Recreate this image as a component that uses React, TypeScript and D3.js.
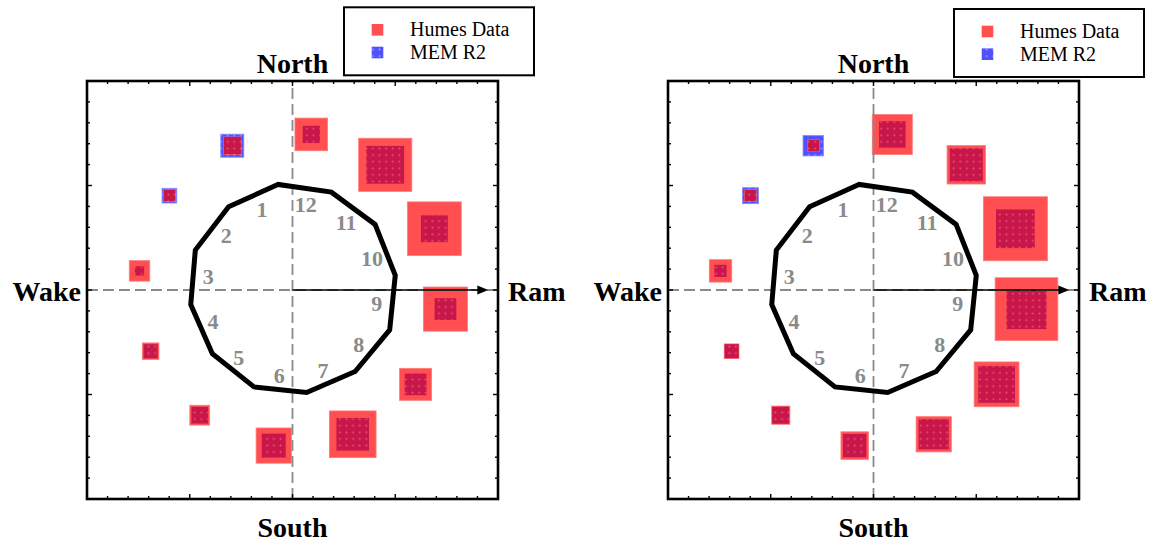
import React from 'react';
import * as d3 from 'd3';

// Months 1..12 placed like a clock, counter-clockwise (degrees from +x axis)
const months = [1, 2, 3, 4, 5, 6, 7, 8, 9, 10, 11, 12];
const monthAngles = [113, 143, 173, 203, 233, 263, 293, 323, 353, 23, 53, 83];

// Polygon radius at the vertex preceding each month (vertex angle = month angle - 15)
const polygonRadius = [1.02, 1.01, 1.02, 1.0, 0.99, 1.0, 0.99, 0.99, 1.02, 1.01, 1.02, 1.01];

// Square sizes (relative units), left panel
const humesLeft = [2.7, 1.8, 3.2, 2.6, 3.1, 5.5, 7.3, 5.0, 6.9, 8.4, 8.3, 5.1];
const memLeft = [3.6, 2.3, 1.45, 2.2, 2.6, 3.75, 5.1, 3.4, 3.4, 4.2, 5.9, 2.7];

// Square sizes (relative units), right panel
const humesRight = [1.8, 1.8, 3.5, 2.3, 2.85, 4.3, 5.5, 7.0, 9.8, 10.0, 6.0, 6.25];
const memRight = [3.2, 2.5, 1.9, 2.2, 2.65, 3.65, 4.7, 5.75, 6.25, 6.05, 5.15, 4.15];

const seriesNames = ['Humes Data', 'MEM R2'];
const directionLabels = { top: 'North', bottom: 'South', left: 'Wake', right: 'Ram' };

const RED = '#ff4f50';
const CRIMSON = '#c8164b';
const BLUE = '#5050ff';
const GRAY = '#8a8a8a';
const SERIF = '"Liberation Serif", "Times New Roman", serif';

type PanelProps = {
  x0: number;
  x1: number;
  humes: number[];
  mem: number[];
  legendX: number;
  legendY: number;
};

const toRad = (d: number) => (d * Math.PI) / 180;

function Panel({ x0, x1, humes, mem, legendX, legendY }: PanelProps) {
  const x = d3.scaleLinear().domain([-2, 2]).range([x0, x1]);
  const y = d3.scaleLinear().domain([-2, 2]).range([499, 81]);
  const s = d3.scaleLinear().domain([0, 10]).range([0, 64]);

  const ticks = d3.range(-1.8, 1.8001, 0.2).map((t) => Math.round(t * 10) / 10);
  const isMajor = (t: number) => Math.abs(t - Math.round(t)) < 1e-6;

  const polyPts: [number, number][] = months.map((_, i) => {
    const a = toRad(monthAngles[i] - 15);
    return [x(polygonRadius[i] * Math.cos(a)), y(polygonRadius[i] * Math.sin(a))];
  });
  const polyPath = d3.line().curve(d3.curveLinearClosed)(polyPts) || '';

  const squareR = 1.5;
  const labelR = 0.83;

  const rect = (cx: number, cy: number, side: number, fill: string, key: string, stroke?: string) => (
    <rect
      key={key}
      x={cx - side / 2}
      y={cy - side / 2}
      width={side}
      height={side}
      fill={fill}
      stroke={stroke || 'none'}
      strokeWidth={stroke ? 0.8 : 0}
    />
  );

  const tipX = x(1.906);
  const cy0 = y(0);

  return (
    <g>
      {/* squares */}
      {months.map((m, i) => {
        const a = toRad(monthAngles[i]);
        const cx = x(squareR * Math.cos(a));
        const cy = y(squareR * Math.sin(a));
        const h = s(humes[i]);
        const mm = s(mem[i]);
        const inner = Math.min(h, mm);
        return (
          <g key={'sq' + m}>
            {mm > h && rect(cx, cy, mm, 'url(#dotsBlue)', 'b', '#8a8aff')}
            {rect(cx, cy, h, RED, 'r', '#ff7a7a')}
            {rect(cx, cy, inner, 'url(#dotsCrimson)', 'c')}
          </g>
        );
      })}

      {/* dashed cross */}
      <line x1={x(-2)} x2={x(2)} y1={cy0} y2={cy0} stroke={GRAY} strokeWidth={1.8} strokeDasharray="11 5" />
      <line x1={x(0)} x2={x(0)} y1={y(-2)} y2={y(2)} stroke={GRAY} strokeWidth={1.8} strokeDasharray="11 5" />

      {/* polygon */}
      <path d={polyPath} fill="none" stroke="#000" strokeWidth={5} strokeLinejoin="miter" />

      {/* Ram arrow */}
      <line x1={x(0)} x2={tipX - 8} y1={cy0} y2={cy0} stroke="#000" strokeWidth={1.6} />
      <path d={`M${tipX},${cy0} L${tipX - 11},${cy0 - 4.5} L${tipX - 11},${cy0 + 4.5} Z`} fill="#000" />

      {/* clock labels */}
      {months.map((m, i) => {
        const a = toRad(monthAngles[i] - 2);
        return (
          <text
            key={'lab' + m}
            x={x(labelR * Math.cos(a))}
            y={y(labelR * Math.sin(a))}
            textAnchor="middle"
            dominantBaseline="central"
            fontFamily={SERIF}
            fontWeight="bold"
            fontSize={22}
            fill={GRAY}
          >
            {m}
          </text>
        );
      })}

      {/* frame */}
      <rect x={x(-2)} y={y(2)} width={x(2) - x(-2)} height={y(-2) - y(2)} fill="none" stroke="#000" strokeWidth={2.6} />
      {ticks.map((t) => {
        const len = isMajor(t) ? 5 : 3;
        return (
          <g key={'t' + t} stroke="#000" strokeWidth={1.4}>
            <line x1={x(t)} x2={x(t)} y1={y(2)} y2={y(2) + len} />
            <line x1={x(t)} x2={x(t)} y1={y(-2)} y2={y(-2) - len} />
            <line x1={x(-2)} x2={x(-2) + len} y1={y(t)} y2={y(t)} />
            <line x1={x(2)} x2={x(2) - len} y1={y(t)} y2={y(t)} />
          </g>
        );
      })}

      {/* direction labels */}
      <g fontFamily={SERIF} fontWeight="bold" fontSize={28} fill="#000">
        <text x={x(0)} y={73} textAnchor="middle">{directionLabels.top}</text>
        <text x={x(0)} y={537} textAnchor="middle">{directionLabels.bottom}</text>
        <text x={x(-2) - 6} y={301} textAnchor="end">{directionLabels.left}</text>
        <text x={x(2) + 10} y={301} textAnchor="start">{directionLabels.right}</text>
      </g>

      {/* legend */}
      <g>
        <rect x={legendX} y={legendY} width={190} height={68} fill="#fff" stroke="#000" strokeWidth={2} />
        <rect x={legendX + 27.7} y={legendY + 16.7} width={11.6} height={11.6} fill={RED} />
        <rect x={legendX + 27.7} y={legendY + 39.4} width={11.6} height={11.6} fill="url(#dotsBlue)" />
        <text x={legendX + 66} y={legendY + 28.7} fontFamily={SERIF} fontSize={20} fill="#000">
          {seriesNames[0]}
        </text>
        <text x={legendX + 66} y={legendY + 51.8} fontFamily={SERIF} fontSize={20} fill="#000">
          {seriesNames[1]}
        </text>
      </g>
    </g>
  );
}

export default function App() {
  return (
    <div style={{ position: 'absolute', left: 0, top: 0 }}>
      <svg width={1154} height={542} style={{ display: 'block', background: '#fff' }}>
        <defs>
          <pattern id="dotsCrimson" patternUnits="userSpaceOnUse" width={6.6} height={6.6}>
            <rect width={6.6} height={6.6} fill={CRIMSON} />
            <rect x={2.5} y={2.5} width={1.6} height={1.6} fill="#e8606e" />
          </pattern>
          <pattern id="dotsBlue" patternUnits="userSpaceOnUse" width={6.6} height={6.6}>
            <rect width={6.6} height={6.6} fill={BLUE} />
            <rect x={2.5} y={2.5} width={1.6} height={1.6} fill="#a8a8ff" />
          </pattern>
        </defs>
        <Panel x0={87} x1={498} humes={humesLeft} mem={memLeft} legendX={344} legendY={7.3} />
        <Panel x0={668} x1={1079} humes={humesRight} mem={memRight} legendX={954} legendY={9} />
      </svg>
    </div>
  );
}
